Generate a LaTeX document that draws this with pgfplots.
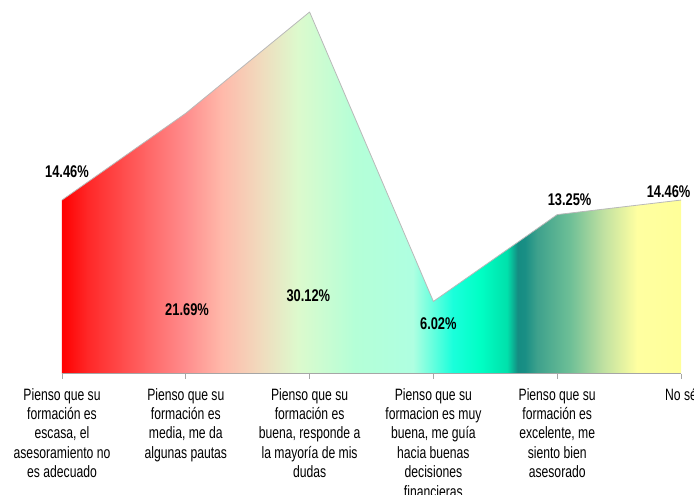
\documentclass[border=0pt]{standalone}
\usepackage{pgfplots}
\pgfplotsset{compat=1.18}
\usepackage{fontspec}
\setmainfont{Liberation Sans}
\newfontfamily\narrow[FakeStretch=0.74]{Liberation Sans}
\newfontfamily\narrowb[FakeStretch=0.76]{Liberation Sans}
\pgfdeclarehorizontalshading{areashade}{100bp}{%
rgb(0bp)=(1,0,0);
rgb(25bp)=(1,0,0);
rgb(27.1bp)=(1,.157,.157);
rgb(32.51bp)=(1,.431,.431);
rgb(34.94bp)=(1,.549,.549);
rgb(37.92bp)=(1,.725,.667);
rgb(41.15bp)=(.941,.863,.745);
rgb(44.06bp)=(.863,.98,.804);
rgb(48.67bp)=(.706,1,.843);
rgb(53.35bp)=(.686,1,.882);
rgb(56.58bp)=(.1,1,.86);
rgb(58.77bp)=(0,1,.77);
rgb(60.95bp)=(0,.88,.67);
rgb(61.8bp)=(.08,.55,.51);
rgb(62.4bp)=(.1,.56,.52);
rgb(63.37bp)=(.24,.63,.55);
rgb(66.03bp)=(.43,.75,.59);
rgb(68.7bp)=(.75,.88,.63);
rgb(71.45bp)=(1,1,.63);
rgb(75bp)=(1,1,.6);
rgb(100bp)=(1,1,.6)}
\begin{document}
\begin{tikzpicture}
\begin{axis}[
  scale only axis,
  at={(0,0)}, anchor=south west,
  width=619bp, height=373.7bp,
  xmin=0, xmax=5, ymin=0, ymax=31.12,
  axis y line=none,
  axis x line*=bottom,
  x axis line style={draw=gray!70, line width=0.8pt, -},
  xtick={0,1,2,3,4,5},
  xticklabels={
    {Pienso que su\\formación es\\escasa, el\\asesoramiento no\\es adecuado},
    {Pienso que su\\formación es\\media, me da\\algunas pautas},
    {Pienso que su\\formación es\\buena, responde a\\la mayoría de mis\\dudas},
    {Pienso que su\\formacion es muy\\buena, me guía\\hacia buenas\\decisiones\\financieras},
    {Pienso que su\\formación es\\excelente, me\\siento bien\\asesorado},
    {No sé}},
  xticklabel style={font=\narrow\fontsize{16.5}{19.5}\selectfont, align=center, text=black, yshift=-6bp},
  tick align=outside,
  major tick length=5bp,
  xtick style={draw=gray!70, line width=0.8pt},
  clip=false,
  axis on top,
]
\addplot[draw=none, shade, shading=areashade] coordinates {
  (0,14.46) (1,21.69) (2,30.12) (3,6.02) (4,13.25) (5,14.46)
} \closedcycle;
\addplot[draw=gray!55, line width=0.8pt, line join=round] coordinates {
  (0,14.46) (1,21.69) (2,30.12) (3,6.02) (4,13.25) (5,14.46)
};
\begin{scope}[every node/.style={font=\narrowb\bfseries\fontsize{17}{20}\selectfont, inner sep=0pt}]
\node at (axis cs:0.04,16.8) {14.46\%};
\node at (axis cs:1.01,5.3) {21.69\%};
\node at (axis cs:1.99,6.5) {30.12\%};
\node at (axis cs:3.04,4.2) {6.02\%};
\node at (axis cs:4.1,14.5) {13.25\%};
\node at (axis cs:4.9,15.2) {14.46\%};
\end{scope}
\end{axis}
\pgfresetboundingbox
\path[use as bounding box] (-62bp,-121.3bp) rectangle (632bp,373.7bp);
\end{tikzpicture}
\end{document}
